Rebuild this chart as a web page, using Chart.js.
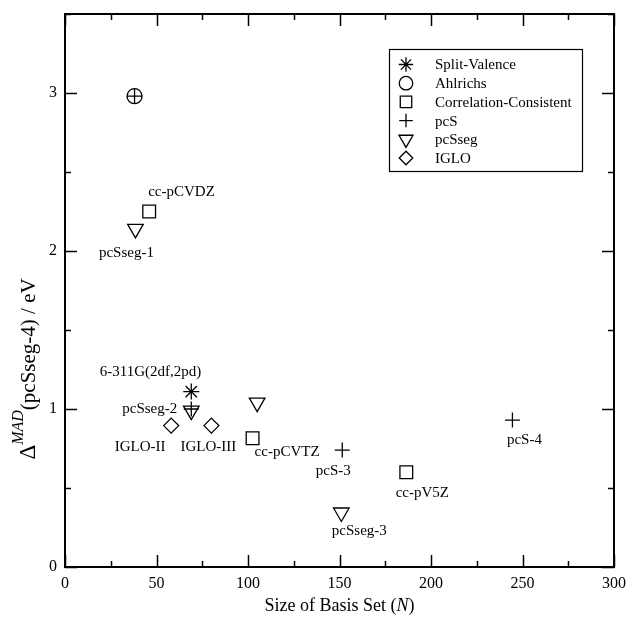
<!DOCTYPE html>
<html lang="en">
<head>
<meta charset="UTF-8">
<title>Basis set size vs MAD</title>
<script src="https://cdn.jsdelivr.net/npm/chart.js"></script>
<style>
  * { margin: 0; padding: 0; box-sizing: border-box; }
  body { background: #fff; }
  .wrap { width: 627px; height: 617px; }
</style>
</head>
<body>
<div class="wrap"><canvas id="chart" width="627" height="617"></canvas></div>
<script>
// series names (legend order)
const seriesNames = ['Split-Valence', 'Ahlrichs', 'Correlation-Consistent', 'pcS', 'pcSseg', 'IGLO'];

// basis set size N and MAD (eV) per family
const splitN = [69];
const splitMad = [1.11];
const splitNames = ['6-311G(2df,2pd)'];

const ahlN = [38];
const ahlMad = [2.98];
const ahlNames = [''];

const ccN = [46, 102.5, 186.5];
const ccMad = [2.25, 0.815, 0.60];
const ccNames = ['cc-pCVDZ', 'cc-pCVTZ', 'cc-pV5Z'];

const pcsN = [38, 69, 151.5, 244.5];
const pcsMad = [2.98, 1.0, 0.74, 0.93];
const pcsNames = ['', '', 'pcS-3', 'pcS-4'];

const pcssegN = [38.5, 69, 105, 151];
const pcssegMad = [2.14, 0.99, 1.04, 0.345];
const pcssegNames = ['pcSseg-1', 'pcSseg-2', '', 'pcSseg-3'];

const igloN = [58, 80];
const igloMad = [0.895, 0.895];
const igloNames = ['IGLO-II', 'IGLO-III'];

const xMin = 0, xMax = 300, xMinor = 25, xMajor = 50;
const yMin = 0, yMax = 3.5, yMinor = 0.5, yMajor = 1;

const serif = "'Liberation Serif', 'DejaVu Serif', serif";

// where each point label sits relative to its marker
const labelPlace = {
  '6-311G(2df,2pd)': { dx: 10, dy: -20, align: 'right' },
  'cc-pCVDZ': { dx: -1, dy: -19, align: 'left' },
  'pcSseg-1': { dx: -9, dy: 24, align: 'center' },
  'pcSseg-2': { dx: -14, dy: -2, align: 'right' },
  'IGLO-II': { dx: -31, dy: 21, align: 'center' },
  'IGLO-III': { dx: -3, dy: 21, align: 'center' },
  'cc-pCVTZ': { dx: 2, dy: 14, align: 'left' },
  'pcS-3': { dx: -9, dy: 21, align: 'center' },
  'cc-pV5Z': { dx: 16, dy: 21, align: 'center' },
  'pcSseg-3': { dx: 18, dy: 19, align: 'center' },
  'pcS-4': { dx: 12, dy: 20, align: 'center' }
};

function pts(xs, ys) {
  return xs.map((x, i) => ({ x: x, y: ys[i] }));
}

function ds(i, xs, ys, names, style, radius, rotation) {
  return {
    label: seriesNames[i],
    data: pts(xs, ys),
    names: names,
    pointStyle: style,
    pointRadius: radius,
    pointRotation: rotation || 0,
    pointBackgroundColor: 'rgba(0,0,0,0)',
    pointBorderColor: '#000',
    pointBorderWidth: 1.3,
    showLine: false
  };
}

const datasets = [
  ds(0, splitN, splitMad, splitNames, 'star', 8),
  ds(1, ahlN, ahlMad, ahlNames, 'circle', 7.5),
  ds(2, ccN, ccMad, ccNames, 'rect', 9),
  ds(3, pcsN, pcsMad, pcsNames, 'cross', 7.5),
  ds(4, pcssegN, pcssegMad, pcssegNames, 'triangle', 9, 180),
  ds(5, igloN, igloMad, igloNames, 'rectRot', 7.5)
];

const decorations = {
  id: 'decorations',
  afterDatasetsDraw(chart) {
    const ctx = chart.ctx;
    const xs = chart.scales.x, ys = chart.scales.y;
    ctx.save();
    ctx.fillStyle = '#000';
    ctx.font = '15px ' + serif;
    ctx.textBaseline = 'middle';
    chart.data.datasets.forEach(d => {
      d.data.forEach((p, j) => {
        const name = d.names[j];
        if (!name) return;
        const pl = labelPlace[name];
        ctx.textAlign = pl.align;
        ctx.fillText(name, xs.getPixelForValue(p.x) + pl.dx, ys.getPixelForValue(p.y) + pl.dy);
      });
    });
    ctx.restore();
  },
  afterDraw(chart) {
    const ctx = chart.ctx;
    const a = chart.chartArea;
    const xs = chart.scales.x, ys = chart.scales.y;
    ctx.save();
    ctx.strokeStyle = '#000';

    // inward ticks on all four sides
    ctx.lineWidth = 1.5;
    ctx.beginPath();
    xs.ticks.forEach(t => {
      const px = Math.round(xs.getPixelForValue(t.value)) + 0.5;
      const len = t.value % xMajor === 0 ? 12 : 6;
      ctx.moveTo(px, a.bottom); ctx.lineTo(px, a.bottom - len);
      ctx.moveTo(px, a.top); ctx.lineTo(px, a.top + len);
    });
    ys.ticks.forEach(t => {
      const py = Math.round(ys.getPixelForValue(t.value)) + 0.5;
      const len = t.value % yMajor === 0 ? 12 : 6;
      ctx.moveTo(a.left, py); ctx.lineTo(a.left + len, py);
      ctx.moveTo(a.right, py); ctx.lineTo(a.right - len, py);
    });
    ctx.stroke();

    // frame
    ctx.lineWidth = 2;
    ctx.strokeRect(a.left, a.top, a.right - a.left, a.bottom - a.top);

    // x title
    ctx.fillStyle = '#000';
    ctx.textBaseline = 'middle';
    ctx.textAlign = 'left';
    const xParts = [['Size of Basis Set (', '18px ' + serif], ['N', 'italic 18px ' + serif], [')', '18px ' + serif]];
    let total = 0;
    xParts.forEach(p => { ctx.font = p[1]; total += ctx.measureText(p[0]).width; });
    let cx = (a.left + a.right) / 2 - total / 2;
    xParts.forEach(p => { ctx.font = p[1]; ctx.fillText(p[0], cx, 606); cx += ctx.measureText(p[0]).width; });

    // y title, rotated: Delta, superscript MAD, then (pcSseg-4) / eV
    ctx.save();
    ctx.translate(35, 369);
    ctx.rotate(-Math.PI / 2);
    ctx.textBaseline = 'alphabetic';
    const yParts = [
      ['\u0394', '23px ' + serif, 0],
      ['MAD', 'italic 16px ' + serif, -12],
      ['(pcSseg-4) / eV', '21px ' + serif, 0]
    ];
    let yTotal = 0;
    yParts.forEach(p => { ctx.font = p[1]; yTotal += ctx.measureText(p[0]).width; });
    let tx = -yTotal / 2;
    yParts.forEach(p => {
      ctx.font = p[1];
      ctx.fillText(p[0], tx, p[2]);
      tx += ctx.measureText(p[0]).width;
    });
    ctx.restore();

    // legend box
    const lx = 389, ly = 49, lw = 193, lh = 122;
    ctx.lineWidth = 1.2;
    ctx.strokeRect(lx + 0.5, ly + 0.5, lw, lh);
    ctx.font = '15px ' + serif;
    ctx.textAlign = 'left';
    ctx.textBaseline = 'middle';
    chart.data.datasets.forEach((d, i) => {
      const rowY = 64.5 + i * 18.7;
      ctx.fillStyle = 'rgba(0,0,0,0)';
      ctx.lineWidth = d.pointBorderWidth;
      ctx.beginPath();
      Chart.helpers.drawPoint(ctx, {
        pointStyle: d.pointStyle,
        rotation: d.pointRotation,
        radius: d.pointRadius * 0.9,
        borderWidth: d.pointBorderWidth
      }, 406, rowY);
      ctx.fillStyle = '#000';
      ctx.fillText(d.label, 435, rowY + 1);
    });
    ctx.restore();
  }
};

new Chart(document.getElementById('chart'), {
  type: 'scatter',
  data: { datasets: datasets },
  options: {
    responsive: false,
    animation: false,
    events: [],
    layout: { padding: { top: 14, right: 13, left: 0, bottom: 0 } },
    plugins: { legend: { display: false }, tooltip: { enabled: false } },
    scales: {
      x: {
        type: 'linear',
        min: xMin, max: xMax,
        afterFit(scale) { scale.height = 50; scale.paddingLeft = 0; scale.paddingRight = 0; },
        grid: { display: false, drawTicks: false },
        border: { display: false },
        ticks: {
          stepSize: xMinor,
          autoSkip: false,
          maxRotation: 0,
          padding: 7,
          color: '#000',
          font: { family: serif, size: 16 },
          callback: v => (v % xMajor === 0 ? v : '')
        }
      },
      y: {
        type: 'linear',
        min: yMin, max: yMax,
        afterFit(scale) { scale.width = 65; scale.paddingTop = 0; scale.paddingBottom = 0; },
        grid: { display: false, drawTicks: false },
        border: { display: false },
        ticks: {
          stepSize: yMinor,
          autoSkip: false,
          padding: 8,
          color: '#000',
          font: { family: serif, size: 16 },
          callback: v => (v % yMajor === 0 ? v : '')
        }
      }
    }
  },
  plugins: [decorations]
});
</script>
</body>
</html>
